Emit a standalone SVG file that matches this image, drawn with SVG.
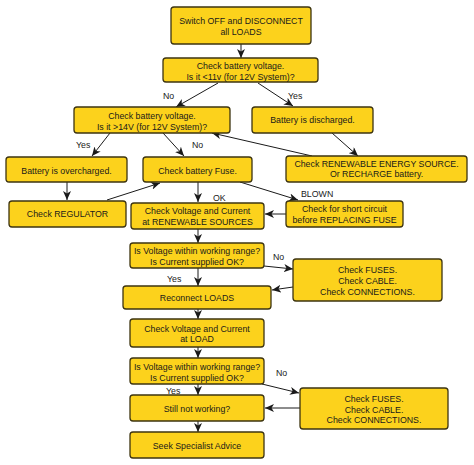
<svg xmlns="http://www.w3.org/2000/svg" width="474" height="465" viewBox="0 0 474 465">
<style>
.b{fill:#FCD21C;stroke:#3d3410;stroke-width:1.3}
.t{font-family:"Liberation Sans",Arial,sans-serif;font-size:8.8px;fill:#1a1a1a;text-anchor:middle}
.l{font-family:"Liberation Sans",Arial,sans-serif;font-size:8.8px;fill:#1a1a1a}
.c{stroke:#1a1a1a;stroke-width:1;fill:none;marker-end:url(#ah)}
</style>
<defs>
<marker id="ah" markerUnits="userSpaceOnUse" markerWidth="10" markerHeight="8" refX="9" refY="4" orient="auto">
<path d="M0,0 L9,4 L0,8 L2.5,4 z" fill="#1a1a1a"/>
</marker>
</defs>
<rect width="474" height="465" fill="#fff"/>
<g id="connectors">
<line class="c" x1="241" y1="44" x2="241" y2="58"/>
<line class="c" x1="218" y1="83" x2="176" y2="107"/>
<line class="c" x1="258" y1="83" x2="293" y2="106"/>
<line class="c" x1="110" y1="133" x2="92" y2="156"/>
<line class="c" x1="163" y1="133" x2="184" y2="156"/>
<line class="c" x1="312" y1="156" x2="212" y2="133"/>
<line class="c" x1="332" y1="133" x2="358" y2="156"/>
<line class="c" x1="67" y1="182" x2="67" y2="200"/>
<line class="c" x1="107" y1="200" x2="160" y2="183"/>
<line class="c" x1="198" y1="182" x2="198" y2="202"/>
<line class="c" x1="240" y1="182" x2="298" y2="200"/>
<line class="c" x1="286" y1="214" x2="265" y2="214"/>
<line class="c" x1="198" y1="229" x2="198" y2="243"/>
<line class="c" x1="264" y1="266" x2="293" y2="269"/>
<line class="c" x1="198" y1="268" x2="198" y2="286"/>
<line class="c" x1="293" y1="287" x2="272" y2="290"/>
<line class="c" x1="198" y1="309" x2="198" y2="319"/>
<line class="c" x1="198" y1="347" x2="198" y2="358"/>
<line class="c" x1="262" y1="384" x2="299" y2="393"/>
<line class="c" x1="198" y1="384" x2="198" y2="395"/>
<line class="c" x1="300" y1="408" x2="265" y2="408"/>
<line class="c" x1="198" y1="421" x2="198" y2="432"/>
<text class="l" x="163" y="99">No</text>
<text class="l" x="288" y="99">Yes</text>
<text class="l" x="76" y="148">Yes</text>
<text class="l" x="192" y="148">No</text>
<text class="l" x="213" y="201">OK</text>
<text class="l" x="301" y="197">BLOWN</text>
<text class="l" x="273" y="260">No</text>
<text class="l" x="167" y="282">Yes</text>
<text class="l" x="276" y="376">No</text>
<text class="l" x="166" y="394">Yes</text>
</g>
<g id="n1"><rect class="b" x="171" y="7" width="140" height="37" rx="3"/><text class="t" x="241" y="24">Switch OFF and DISCONNECT</text><text class="t" x="241" y="34.5">all LOADS</text></g>
<g id="n2"><rect class="b" x="163" y="58" width="155" height="24" rx="3"/><text class="t" x="240.5" y="69">Check battery voltage.</text><text class="t" x="240.5" y="80">Is it &lt;11v (for 12V System)?</text></g>
<g id="n3"><rect class="b" x="74" y="107" width="156" height="26" rx="3"/><text class="t" x="152" y="119">Check battery voltage.</text><text class="t" x="152" y="130">Is it &gt;14V (for 12V System)?</text></g>
<g id="n4"><rect class="b" x="252" y="107" width="121" height="26" rx="3"/><text class="t" x="312.5" y="123">Battery is discharged.</text></g>
<g id="n5"><rect class="b" x="6" y="157" width="121" height="25" rx="3"/><text class="t" x="66.5" y="173.5">Battery is overcharged.</text></g>
<g id="n6"><rect class="b" x="143" y="157" width="109" height="25" rx="3"/><text class="t" x="197.5" y="173.5">Check battery Fuse.</text></g>
<g id="n7"><rect class="b" x="286" y="156" width="181" height="26" rx="3"/><text class="t" x="376.5" y="166.5">Check RENEWABLE ENERGY SOURCE.</text><text class="t" x="376.5" y="177">Or RECHARGE battery.</text></g>
<g id="n8"><rect class="b" x="9" y="201" width="117" height="26" rx="3"/><text class="t" x="67.5" y="217">Check REGULATOR</text></g>
<g id="n9"><rect class="b" x="131" y="203" width="133" height="26" rx="3"/><text class="t" x="197.5" y="214">Check Voltage and Current</text><text class="t" x="197.5" y="225">at RENEWABLE SOURCES</text></g>
<g id="n10"><rect class="b" x="286" y="201" width="117" height="26" rx="3"/><text class="t" x="344.5" y="212">Check for short circuit</text><text class="t" x="344.5" y="222.5">before REPLACING FUSE</text></g>
<g id="n11"><rect class="b" x="130" y="243" width="134" height="25" rx="3"/><text class="t" x="197" y="254">Is Voltage within working range?</text><text class="t" x="197" y="265">Is Current supplied OK?</text></g>
<g id="n12"><rect class="b" x="293" y="259" width="149" height="42" rx="3"/><text class="t" x="367.5" y="273">Check FUSES.</text><text class="t" x="367.5" y="284">Check CABLE.</text><text class="t" x="367.5" y="295">Check CONNECTIONS.</text></g>
<g id="n13"><rect class="b" x="123" y="286" width="148" height="23" rx="3"/><text class="t" x="197" y="301">Reconnect LOADS</text></g>
<g id="n14"><rect class="b" x="130" y="319" width="134" height="28" rx="3"/><text class="t" x="197" y="331.5">Check Voltage and Current</text><text class="t" x="197" y="342">at LOAD</text></g>
<g id="n15"><rect class="b" x="130" y="358" width="134" height="26" rx="3"/><text class="t" x="197" y="370">Is Voltage within working range?</text><text class="t" x="197" y="381">Is Current supplied OK?</text></g>
<g id="n16"><rect class="b" x="300" y="388" width="148" height="41" rx="3"/><text class="t" x="374" y="401.5">Check FUSES.</text><text class="t" x="374" y="412.5">Check CABLE.</text><text class="t" x="374" y="423">Check CONNECTIONS.</text></g>
<g id="n17"><rect class="b" x="130" y="395" width="134" height="26" rx="3"/><text class="t" x="197" y="412">Still not working?</text></g>
<g id="n18"><rect class="b" x="130" y="432" width="134" height="26" rx="3"/><text class="t" x="197" y="449">Seek Specialist Advice</text></g>
</svg>
